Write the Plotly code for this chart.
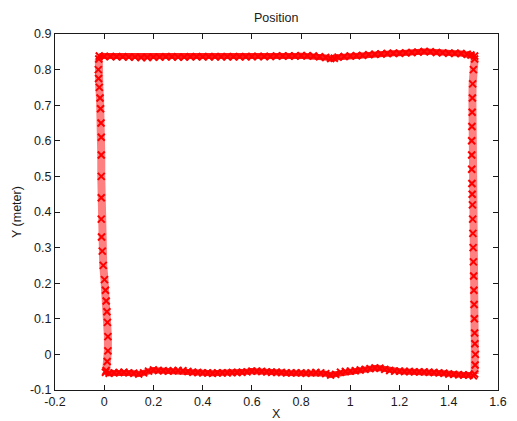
import plotly.graph_objects as go

# Path: bottom (left->right), right side (bottom->top), top (right->left), left side (top->bottom)
bottom_x = [0.005, 0.02, 0.04, 0.06, 0.08, 0.10, 0.12, 0.14, 0.16, 0.18, 0.20, 0.22, 0.24, 0.26,
            0.28, 0.30, 0.32, 0.34, 0.36, 0.38, 0.40, 0.42, 0.44, 0.46, 0.48, 0.50, 0.52, 0.54,
            0.56, 0.58, 0.60, 0.62, 0.64, 0.66, 0.68, 0.70, 0.72, 0.74, 0.76, 0.78, 0.80, 0.82,
            0.84, 0.86, 0.88, 0.90, 0.92, 0.94, 0.96, 0.98, 1.00, 1.02, 1.04, 1.06, 1.08, 1.10,
            1.12, 1.14, 1.16, 1.18, 1.20, 1.22, 1.24, 1.26, 1.28, 1.30, 1.32, 1.34, 1.36, 1.38,
            1.40, 1.42, 1.44, 1.46, 1.48, 1.50]
bottom_y = [-0.050, -0.053, -0.052, -0.051, -0.050, -0.052, -0.053, -0.055, -0.052, -0.047, -0.044,
            -0.045, -0.046, -0.047, -0.046, -0.045, -0.046, -0.048, -0.050, -0.051, -0.052, -0.052,
            -0.053, -0.052, -0.052, -0.052, -0.051, -0.051, -0.050, -0.049, -0.047, -0.047, -0.048,
            -0.049, -0.050, -0.050, -0.051, -0.052, -0.052, -0.052, -0.052, -0.053, -0.052, -0.051,
            -0.052, -0.054, -0.058, -0.056, -0.050, -0.048, -0.047, -0.046, -0.044, -0.042, -0.040,
            -0.038, -0.039, -0.042, -0.045, -0.047, -0.047, -0.048, -0.048, -0.049, -0.049, -0.049,
            -0.050, -0.051, -0.052, -0.053, -0.055, -0.056, -0.057, -0.058, -0.058, -0.060]

right_x = [1.505, 1.507, 1.508, 1.506, 1.505, 1.504, 1.503, 1.502, 1.501, 1.500, 1.499, 1.498,
           1.497, 1.496, 1.495, 1.494, 1.493, 1.493, 1.493, 1.494, 1.495, 1.496, 1.497, 1.500, 1.505]
right_y = [-0.055, -0.030, 0.000, 0.030, 0.060, 0.100, 0.140, 0.180, 0.220, 0.260, 0.300, 0.340,
           0.380, 0.420, 0.450, 0.480, 0.520, 0.560, 0.600, 0.640, 0.680, 0.720, 0.760, 0.800, 0.830]

top_x = [1.505, 1.49, 1.475, 1.45, 1.425, 1.40, 1.375, 1.35, 1.325, 1.30, 1.275, 1.25, 1.225,
         1.20, 1.175, 1.15, 1.125, 1.10, 1.075, 1.05, 1.025, 1.00, 0.975, 0.95, 0.935, 0.92,
         0.90, 0.875, 0.85, 0.825, 0.80, 0.775, 0.75, 0.725, 0.70, 0.675, 0.65, 0.625, 0.60,
         0.575, 0.55, 0.525, 0.50, 0.475, 0.45, 0.425, 0.40, 0.375, 0.35, 0.325, 0.30, 0.275,
         0.25, 0.225, 0.20, 0.175, 0.15, 0.125, 0.10, 0.075, 0.05, 0.025, 0.00, -0.02]
top_y = [0.838, 0.841, 0.843, 0.845, 0.846, 0.846, 0.847, 0.848, 0.850, 0.851, 0.849, 0.848, 0.847,
         0.846, 0.846, 0.845, 0.844, 0.843, 0.842, 0.840, 0.839, 0.838, 0.837, 0.835, 0.832, 0.831,
         0.834, 0.836, 0.838, 0.839, 0.839, 0.838, 0.838, 0.838, 0.838, 0.837, 0.837, 0.837, 0.837,
         0.836, 0.836, 0.836, 0.836, 0.836, 0.836, 0.836, 0.836, 0.836, 0.836, 0.835, 0.835, 0.836,
         0.836, 0.835, 0.835, 0.834, 0.834, 0.835, 0.835, 0.836, 0.836, 0.837, 0.837, 0.838]

left_x = [-0.022, -0.024, -0.023, -0.020, -0.017, -0.015, -0.013, -0.012, -0.012, -0.012, -0.012,
          -0.012, -0.011, -0.008, -0.004, 0.001, 0.005, 0.008, 0.011, 0.013, 0.015, 0.015, 0.012, 0.008]
left_y = [0.830, 0.800, 0.775, 0.750, 0.720, 0.690, 0.650, 0.610, 0.560, 0.500, 0.440, 0.380,
          0.330, 0.290, 0.250, 0.210, 0.180, 0.150, 0.120, 0.090, 0.050, 0.010, -0.020, -0.045]

x_ticks = [-0.2, 0, 0.2, 0.4, 0.6, 0.8, 1, 1.2, 1.4, 1.6]
x_tick_text = ["-0.2", "0", "0.2", "0.4", "0.6", "0.8", "1", "1.2", "1.4", "1.6"]
y_ticks = [-0.1, 0, 0.1, 0.2, 0.3, 0.4, 0.5, 0.6, 0.7, 0.8, 0.9]
y_tick_text = ["-0.1", "0", "0.1", "0.2", "0.3", "0.4", "0.5", "0.6", "0.7", "0.8", "0.9"]

segments = [(bottom_x, bottom_y, "#ff1a1a", 6), (right_x, right_y, "#ff8080", 8),
            (top_x, top_y, "#ff1a1a", 6), (left_x, left_y, "#ff8080", 8)]

fig = go.Figure()
for sx, sy, col, w in segments:
    fig.add_trace(go.Scatter(x=sx, y=sy, mode="lines", line=dict(color=col, width=w),
                             hoverinfo="skip", showlegend=False))
for sx, sy, col, w in segments:
    fig.add_trace(go.Scatter(x=sx, y=sy, mode="markers",
                             marker=dict(symbol="x-thin", size=7, color="#ff0000",
                                         line=dict(width=2, color="#ff0000")),
                             showlegend=False))

font = dict(family="Liberation Sans, Arial, sans-serif", size=12.5, color="#1a1a1a")
axis_common = dict(showgrid=False, zeroline=False, showline=True, linecolor="#1a1a1a", linewidth=1,
                   mirror="ticks", ticks="inside", ticklen=5, tickcolor="#1a1a1a", tickwidth=1,
                   tickfont=font)

fig.update_layout(
    width=517, height=421,
    margin=dict(l=55, r=10, t=34, b=31),
    paper_bgcolor="white", plot_bgcolor="white",
    font=font,
    xaxis=dict(range=[-0.2, 1.6], tickvals=x_ticks, ticktext=x_tick_text, **axis_common),
    yaxis=dict(range=[-0.1, 0.9], tickvals=y_ticks, ticktext=y_tick_text, **axis_common),
    annotations=[
        dict(text="Position", xref="paper", yref="paper", x=0.5, y=1, yshift=7,
             xanchor="center", yanchor="bottom", showarrow=False, font=font),
        dict(text="X", xref="paper", yref="paper", x=0.5, y=0, yshift=-15,
             xanchor="center", yanchor="top", showarrow=False, font=font),
        dict(text="Y (meter)", xref="paper", yref="paper", x=0, y=0.5, xshift=-38,
             xanchor="center", yanchor="middle", textangle=-90, showarrow=False, font=font),
    ],
)

fig.write_html("out.html", config={"displayModeBar": False},
               post_script="document.body.style.margin='0';")
